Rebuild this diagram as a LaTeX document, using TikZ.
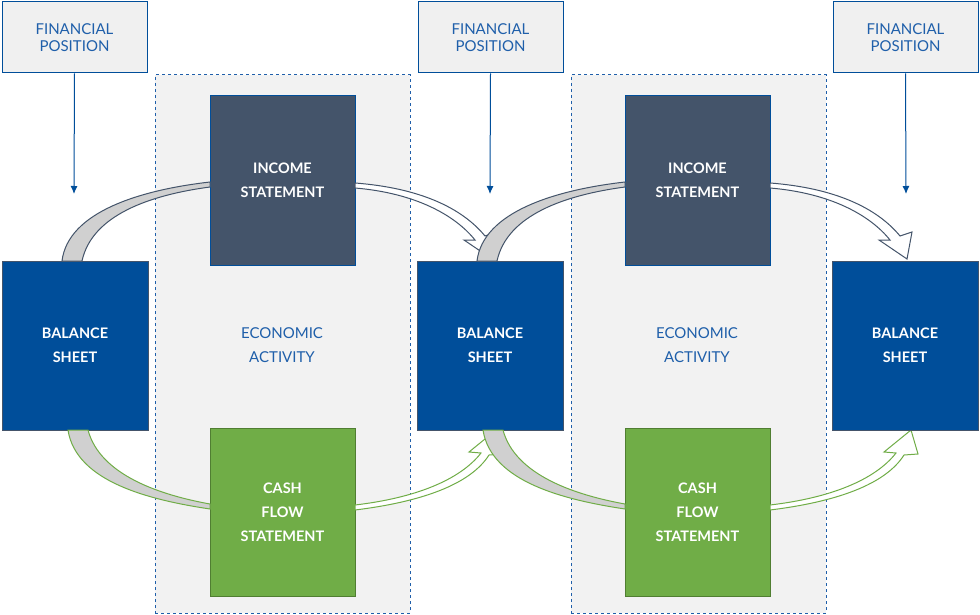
\documentclass[tikz,border=0pt]{standalone}
\usepackage{fontspec}
\setmainfont{Lato}
\usetikzlibrary{arrows.meta}
\definecolor{bsblue}{HTML}{004E9A}
\definecolor{incgray}{HTML}{44546A}
\definecolor{cfgreen}{HTML}{70AD47}
\definecolor{cfdark}{HTML}{507E32}
\definecolor{fpfill}{HTML}{F0F0F0}
\definecolor{eafill}{HTML}{F2F2F2}
\definecolor{txtblue}{HTML}{1F5FAA}
\definecolor{band}{HTML}{D0D0D0}
\tikzset{
 fpbox/.style={draw=bsblue,fill=fpfill,line width=1pt,minimum width=145pt,minimum height=71pt,align=center,text=txtblue,font=\fontsize{15}{17}\selectfont},
 eabox/.style={draw=txtblue,fill=eafill,dashed,line width=1pt},
 bsbox/.style={draw=incgray,fill=bsblue,minimum width=146pt,minimum height=169pt,align=center,text=white,font=\bfseries\fontsize{14.5}{24}\selectfont},
 isbox/.style={draw=bsblue,fill=incgray,line width=1pt,minimum width=145pt,minimum height=169pt},
 cfbox/.style={draw=cfdark,fill=cfgreen,line width=1pt,minimum width=145pt,minimum height=168pt,align=center,text=white,font=\bfseries\fontsize{14.5}{24}\selectfont},
 eatext/.style={align=center,text=txtblue,font=\fontsize{15}{24}\selectfont},
 fparrow/.style={draw=bsblue,line width=1pt,-{Latex[length=8pt,width=7pt]}},
 grayband/.style={fill=band,draw=incgray,line width=1pt},
 greenband/.style={fill=band,draw=cfgreen,line width=1pt},
 whitearrow/.style={fill=white,draw=incgray,line width=1pt},
 whitegreen/.style={fill=white,draw=cfgreen,line width=1pt}
}
\begin{document}
\begin{tikzpicture}[x=1pt,y=-1pt]
\useasboundingbox (0,0) rectangle (980,615);
\fill[white] (0,0) rectangle (980,615);
\node[eabox,minimum width=255pt,minimum height=538pt] (ea1) at (282.5,344) {};
\node[eabox,minimum width=255pt,minimum height=538pt] (ea2) at (698.5,344) {};
\node[eatext] (eat1) at (282,345) {ECONOMIC\\ACTIVITY};
\node[eatext] (eat2) at (697,345) {ECONOMIC\\ACTIVITY};
\node[fpbox] (fp1) at (74.5,37.5) {FINANCIAL\\POSITION};
\node[fpbox] (fp2) at (490.5,37.5) {FINANCIAL\\POSITION};
\node[fpbox] (fp3) at (905.5,37.5) {FINANCIAL\\POSITION};
\coordinate (t1) at (74,194);
\coordinate (t2) at (490,194);
\coordinate (t3) at (906,194);
\draw[fparrow] (fp1.south) -- (t1);
\draw[fparrow] (fp2.south) -- (t2);
\draw[fparrow] (fp3.south) -- (t3);
\node[isbox] (is1) at (282.5,180.5) {};
\node[isbox] (is2) at (697.5,180.5) {};
\node[text=white,font=\bfseries\fontsize{14.5}{24}\selectfont,align=center] (ist1) at (282.5,180) {INCOME\\STATEMENT};
\node[text=white,font=\bfseries\fontsize{14.5}{24}\selectfont,align=center] (ist2) at (697.5,180) {INCOME\\STATEMENT};
\node[cfbox] (cf1) at (282.5,512) {CASH\\FLOW\\STATEMENT};
\node[cfbox] (cf2) at (697.5,512) {CASH\\FLOW\\STATEMENT};
\foreach \dx in {0,415}{
 \begin{scope}[xshift=\dx]
 \draw[whitearrow] (355,183) .. controls (420,188) and (462,208) .. (485,236) -- (497,232) -- (492,259) -- (464,240) -- (475,240) .. controls (455,215) and (415,193) .. (355,188) -- cycle;
 \draw[whitegreen] (355,505) .. controls (415,498) and (460,480) .. (481,453) -- (469,452) -- (496,430) -- (503,454) -- (489,455) .. controls (470,485) and (420,502) .. (355,510) -- cycle;
 \end{scope}
}
\node[bsbox] (bs1) at (75,345.5) {BALANCE\\SHEET};
\node[bsbox] (bs2) at (490,345.5) {BALANCE\\SHEET};
\node[bsbox] (bs3) at (905,345.5) {BALANCE\\SHEET};
\foreach \dx in {0,415}{
 \begin{scope}[xshift=\dx]
 \draw[grayband] (62,261) .. controls (68,212) and (140,190) .. (210,182) -- (210,187) .. controls (150,195) and (92,215) .. (82,261) -- cycle;
 \draw[greenband] (68,430) .. controls (76,482) and (150,500) .. (210,509) -- (210,504) .. controls (160,495) and (100,475) .. (88,430) -- cycle;
 \end{scope}
}
\end{tikzpicture}
\end{document}
